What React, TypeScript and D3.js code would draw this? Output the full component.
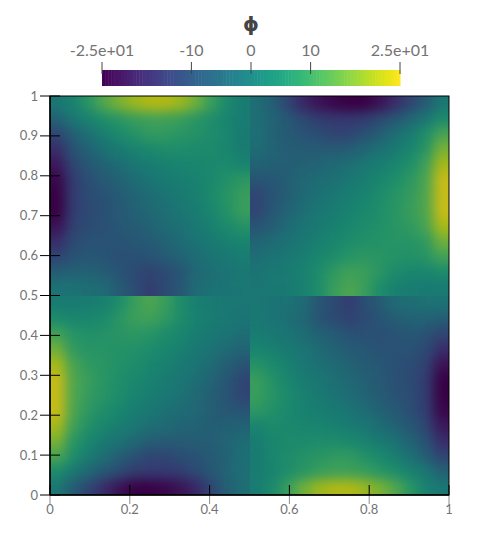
import React from "react";
import * as d3 from "d3";

// phi, 26 x 26 cells, top row (y = 1) first
const phiRows: number[][] = [
  [0, 3, 8, 13, 17, 20, 22, 22, 20, 16, 10, 5, 1.5, -2, -6, -12, -18, -22, -24, -25, -25, -22, -17, -12, -7, 0],
  [-5, 0, 3, 6, 8, 10, 11, 11, 10, 8, 6, 3.5, 1.5, -2, -4.5, -8, -11, -14, -15, -15, -14, -11, -8, -4, 0, 5],
  [-12, -6, -1.5, 2, 5, 7, 9, 9, 8, 7, 5.5, 4, 1, -1.5, -5, -7, -9, -10, -12, -12, -9, -6, -2, 1.5, 6, 12],
  [-17, -9, -5, -1.5, 1, 3, 4.5, 5.5, 5.5, 5, 5, 4, 1.5, -2.5, -4.5, -6.5, -6.5, -7, -7, -6, -4, -1, 1, 4, 8, 17],
  [-21, -12, -8, -5, -2.5, 0, 1.5, 2.5, 3.5, 4, 4.5, 5, 3.5, -5, -5.5, -6, -5, -4.5, -3, -2, 0, 2, 4, 6.5, 11, 21],
  [-24, -14, -10, -7.5, -5, -2.5, -0.5, 1, 2, 3, 4.5, 6.5, 8.5, -8.5, -8, -6, -4, -2.5, -1.5, 0.5, 2, 4, 6, 8.5, 12.5, 24],
  [-25, -14, -10.5, -9, -7, -4.5, -2.5, -0.5, 1, 2.5, 5, 7.5, 10, -12, -8.5, -6, -3.5, -1, 0.5, 2, 3.5, 5.5, 7.5, 9.5, 13, 24],
  [-25, -14, -11, -9.5, -7.5, -5.5, -3.5, -2, 0, 1.5, 4, 7, 10, -12, -8, -4.5, -2, 0, 1.5, 3, 4.5, 6, 8, 10, 13, 24],
  [-22, -13, -10.5, -9.5, -8, -7, -5, -3, -1.5, 0.5, 2.5, 5, 7, -8.5, -6, -3, -0.5, 1, 2.5, 4, 5.5, 6.5, 8, 9, 12, 21],
  [-17, -11, -9, -9, -9, -8, -7, -5, -3, -0.5, 1, 2.5, 3.5, -4.5, -3, -1, 0.5, 2.5, 4, 5.5, 6.5, 7, 7.5, 7.5, 9, 16],
  [-12, -9, -8, -8.5, -9.5, -9.5, -9, -7, -5, -2.5, -0.5, 0.5, 1.5, -2, -0.5, 0.5, 2, 4, 5.5, 7.5, 8.5, 8, 7, 6.5, 7.5, 11],
  [-6, -5, -5, -6.5, -8.5, -11, -12.5, -11, -8.5, -4, -2, -0.5, 0.5, -0.5, 0.5, 1.5, 3, 5.5, 9, 11, 10.5, 8, 5, 4, 4, 5],
  [-1, -1, -2, -3, -7, -10, -14, -11, -8, -3, -1, -0.5, 0, 0, 0.5, 1, 2.5, 5.5, 10, 12.5, 10, 5.5, 2.5, 1.5, 1, 1],
  [1, 1, 1.5, 2.5, 5.5, 10, 12.5, 10, 5.5, 2.5, 1, 0.5, 0, 0, -0.5, -1, -3, -8, -11, -14, -10, -7, -3, -2, -1, -1],
  [5, 4, 4, 5, 8, 10.5, 11, 9, 5.5, 3, 1.5, 0.5, -0.5, 0.5, -0.5, -2, -4, -8.5, -11, -12.5, -11, -8.5, -6.5, -5, -5, -6],
  [11, 7.5, 6.5, 7, 8, 8.5, 7.5, 5.5, 4, 2, 0.5, -0.5, -2, 1.5, 0.5, -0.5, -2.5, -5, -7, -9, -9.5, -9.5, -8.5, -8, -9, -12],
  [16, 9, 7.5, 7.5, 7, 6.5, 5.5, 4, 2.5, 0.5, -1, -3, -4.5, 3.5, 2.5, 1, -0.5, -3, -5, -7, -8, -9, -9, -9, -11, -17],
  [21, 12, 9, 8, 6.5, 5.5, 4, 2.5, 1, -0.5, -3, -6, -8.5, 7, 5, 2.5, 0.5, -1.5, -3, -5, -7, -8, -9.5, -10.5, -13, -22],
  [24, 13, 10, 8, 6, 4.5, 3, 1.5, 0, -2, -4.5, -8, -12, 10, 7, 4, 1.5, 0, -2, -3.5, -5.5, -7.5, -9.5, -11, -14, -25],
  [24, 13, 9.5, 7.5, 5.5, 3.5, 2, 0.5, -1, -3.5, -6, -8.5, -12, 10, 7.5, 5, 2.5, 1, -0.5, -2.5, -4.5, -7, -9, -10.5, -14, -25],
  [24, 12.5, 8.5, 6, 4, 2, 0.5, -1.5, -2.5, -4, -6, -8, -8.5, 8.5, 6.5, 4.5, 3, 2, 1, -0.5, -2.5, -5, -7.5, -10, -14, -24],
  [21, 11, 6.5, 4, 2, 0, -2, -3, -4.5, -5, -6, -5.5, -5, 3.5, 5, 4.5, 4, 3.5, 2.5, 1.5, 0, -2.5, -5, -8, -12, -21],
  [17, 8, 4, 1, -1, -4, -6, -7, -7, -6.5, -6.5, -4.5, -2.5, 1.5, 4, 5, 5, 5.5, 5.5, 4.5, 3, 1, -1.5, -5, -9, -17],
  [12, 6, 1.5, -2, -6, -9, -12, -12, -10, -9, -7, -5, -1.5, 1, 4, 5.5, 7, 8, 9, 9, 7, 5, 2, -1.5, -6, -12],
  [5, 0, -4, -8, -11, -14, -15, -15, -14, -11, -8, -4.5, -2, 1.5, 3.5, 6, 8, 10, 11, 11, 10, 8, 6, 3, 0, -5],
  [0, -7, -12, -17, -22, -25, -25, -24, -22, -18, -12, -6, -2, 1.5, 5, 10, 16, 20, 22, 22, 20, 17, 13, 8, 3, 0],
];

const axisTicks = [0, 0.2, 0.4, 0.6, 0.8, 1];
const yAxisTicks = [0, 0.1, 0.2, 0.3, 0.4, 0.5, 0.6, 0.7, 0.8, 0.9, 1];
const barTicks = [-25, -10, 0, 10, 25];
const barLabels = ["-2.5e+01", "-10", "0", "10", "2.5e+01"];

const plot = { left: 50, right: 449, top: 96, bottom: 495 };
const bar = { left: 102, right: 400, top: 70, bottom: 86 };
const font = "Lato, 'Open Sans', sans-serif";
const textColor = "#737373";

const x = d3.scaleLinear().domain([0, 1]).range([plot.left, plot.right]);
const y = d3.scaleLinear().domain([0, 1]).range([plot.bottom, plot.top]);
const barX = d3.scaleLinear().domain([-25, 25]).range([bar.left, bar.right]);
const viridis = d3.scaleSequential(d3.interpolateViridis).domain([-25, 25]);

// the surface is a bit darker than the colour bar (scene lighting)
const lit = (v: number) => {
  const c = d3.rgb(viridis(v));
  return d3.rgb(c.r * 0.82, c.g * 0.82, c.b * 0.82).formatHex();
};

const nCells = phiRows.length;
const half = nCells / 2;
const cell = d3.scaleBand<number>().domain(d3.range(nCells)).range([0, 1]);
const barSteps = d3.range(96);
const bleed = 24;

// the field jumps across x = 0.5 and y = 0.5, so each quadrant is smoothed on its own
const quadrants = [
  { cols: [0, half], rows: [0, half] },
  { cols: [half, nCells], rows: [0, half] },
  { cols: [0, half], rows: [half, nCells] },
  { cols: [half, nCells], rows: [half, nCells] },
];

function Quadrant({ cols, rows, id }: { cols: number[]; rows: number[]; id: string }) {
  const edge = (i: number) => x(cell(i) ?? 1);
  const edgeY = (j: number) => y(1 - (cell(j) ?? 1));
  // whole pixels, otherwise the page shows through where two quadrants meet
  const clipX0 = Math.round(edge(cols[0]));
  const clipX1 = Math.round(edge(cols[1]));
  const clipY0 = Math.round(edgeY(rows[0]));
  const clipY1 = Math.round(edgeY(rows[1]));
  return (
    <g>
      <clipPath id={id}>
        <rect x={clipX0} y={clipY0} width={clipX1 - clipX0} height={clipY1 - clipY0} shapeRendering="crispEdges" />
      </clipPath>
      <g clipPath={`url(#${id})`}>
        <g filter="url(#smooth)">
          {d3.range(rows[0], rows[1]).map((j) =>
            d3.range(cols[0], cols[1]).map((i) => {
              // cells on a quadrant border run past it so the blur does not fade there
              const x0 = edge(i) - (i === cols[0] ? bleed : 0);
              const x1 = edge(i + 1) + (i === cols[1] - 1 ? bleed : 0);
              const y0 = edgeY(j) - (j === rows[0] ? bleed : 0);
              const y1 = edgeY(j + 1) + (j === rows[1] - 1 ? bleed : 0);
              return <rect key={`${i}-${j}`} x={x0} y={y0} width={x1 - x0 + 0.5} height={y1 - y0 + 0.5} fill={lit(phiRows[j][i])} />;
            })
          )}
        </g>
      </g>
    </g>
  );
}

export default function App() {
  return (
    <svg width={490} height={540} style={{ position: "absolute", left: 0, top: 0 }}>
      <defs>
        <filter id="smooth" filterUnits="userSpaceOnUse" x={0} y={50} width={490} height={490} colorInterpolationFilters="sRGB">
          <feGaussianBlur stdDeviation={6} />
        </filter>
      </defs>

      <rect x={plot.left} y={plot.top} width={plot.right - plot.left} height={plot.bottom - plot.top} fill={lit(0)} />
      {quadrants.map((q, k) => (
        <Quadrant key={k} id={`quad-${k}`} cols={q.cols} rows={q.rows} />
      ))}

      <rect x={plot.left} y={plot.top} width={plot.right - plot.left} height={plot.bottom - plot.top} fill="none" stroke="#000" strokeWidth={1} />
      <line x1={plot.left} x2={plot.left} y1={plot.top} y2={plot.bottom} stroke="#000" strokeWidth={1.5} />
      <line x1={plot.left} x2={plot.right} y1={plot.bottom} y2={plot.bottom} stroke="#000" strokeWidth={1.5} />

      {axisTicks.map((t) => (
        <g key={t}>
          <line x1={x(t)} x2={x(t)} y1={plot.bottom - 10} y2={plot.bottom} stroke="#000" />
          <line x1={x(t)} x2={x(t)} y1={plot.bottom} y2={plot.bottom + 9} stroke="#000" strokeOpacity={0.45} />
          <text x={x(t)} y={514} textAnchor="middle" fontFamily={font} fontSize={13} fill={textColor}>
            {t}
          </text>
        </g>
      ))}
      {yAxisTicks.map((t) => (
        <g key={t}>
          <line x1={plot.left - 10} x2={plot.left + 10} y1={y(t)} y2={y(t)} stroke="#000" />
          <text x={38} y={y(t) + 4.5} textAnchor="end" fontFamily={font} fontSize={13} fill={textColor}>
            {t}
          </text>
        </g>
      ))}

      {barSteps.map((s) => {
        const v0 = -25 + (s * 50) / barSteps.length;
        const v1 = -25 + ((s + 1) * 50) / barSteps.length;
        return (
          <rect key={s} x={barX(v0)} y={bar.top} width={barX(v1) - barX(v0) + 0.5} height={bar.bottom - bar.top} fill={viridis((v0 + v1) / 2)} />
        );
      })}
      {barTicks.map((t, i) => (
        <g key={t}>
          <line x1={barX(t)} x2={barX(t)} y1={62} y2={74} stroke="#444" />
          <text x={barX(t)} y={56} textAnchor="middle" fontFamily={font} fontSize={16} fill={textColor}>
            {barLabels[i]}
          </text>
        </g>
      ))}
      <text x={251} y={31} textAnchor="middle" fontFamily="'DejaVu Sans', sans-serif" fontWeight="bold" fontSize={20} fill="#444">
        ϕ
      </text>
    </svg>
  );
}
